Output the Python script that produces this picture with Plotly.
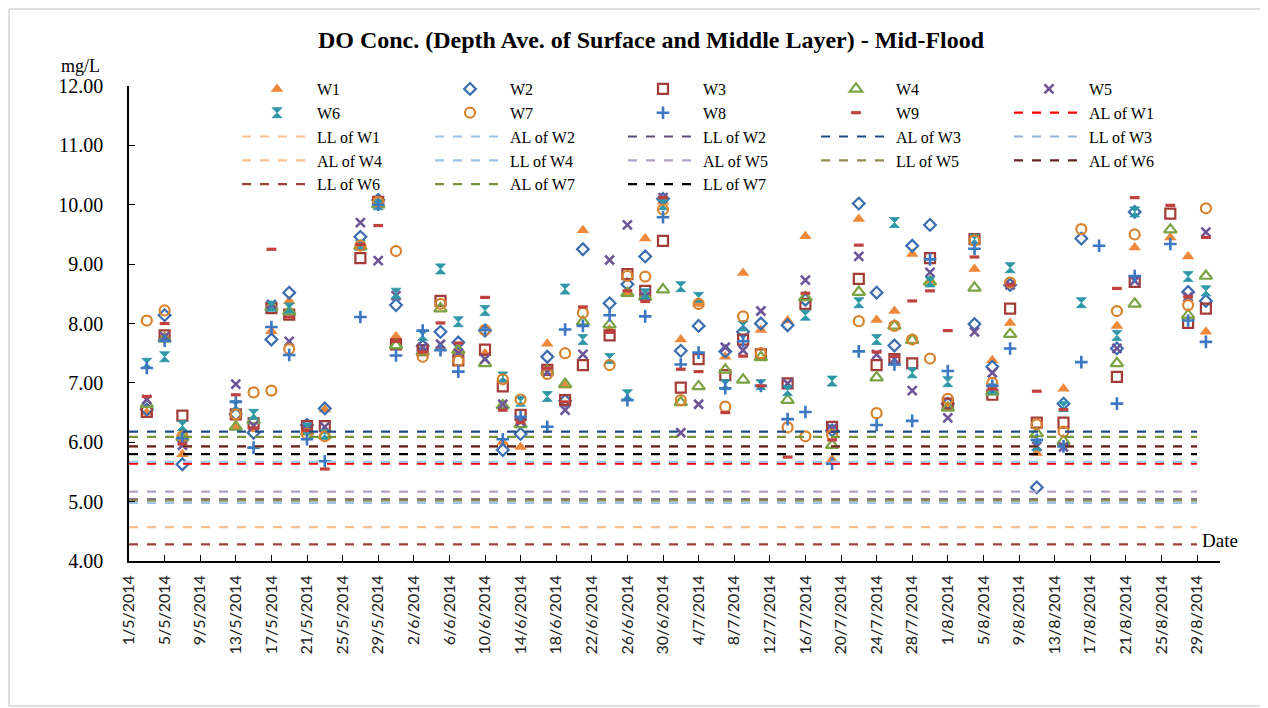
import plotly.graph_objects as go

dates = ["2014-05-03","2014-05-05","2014-05-07","2014-05-13","2014-05-15","2014-05-17","2014-05-19",
         "2014-05-21","2014-05-23","2014-05-27","2014-05-29","2014-05-31","2014-06-03","2014-06-05",
         "2014-06-07","2014-06-10","2014-06-12","2014-06-14","2014-06-17","2014-06-19","2014-06-21",
         "2014-06-24","2014-06-26","2014-06-28","2014-06-30","2014-07-02","2014-07-04","2014-07-07",
         "2014-07-09","2014-07-11","2014-07-14","2014-07-16","2014-07-19","2014-07-22","2014-07-24",
         "2014-07-26","2014-07-28","2014-07-30","2014-08-01","2014-08-04","2014-08-06","2014-08-08",
         "2014-08-11","2014-08-14","2014-08-16","2014-08-18","2014-08-20","2014-08-22","2014-08-26",
         "2014-08-28","2014-08-30"]

w1 = [6.50, 7.78, 5.80, 6.27, 6.22, 7.87, 8.38, 6.20, 6.55, 9.31, 10.05, 7.78, 7.50, 7.60, 7.58, 7.50, 6.00,
      5.92, 7.66, 6.95, 9.57, 7.90, 8.52, 9.43, 10.05, 7.73, 8.33, 7.44, 8.85, 7.89, 8.05, 9.47, 5.71, 9.76,
      8.06, 8.21, 9.17, 8.72, 6.60, 8.92, 7.38, 8.01, 5.82, 6.90, None, None, 7.96, 9.28, 9.45, 9.13, 7.86]
w2 = [6.55, 8.14, 5.63, 6.47, 6.16, 7.73, 8.52, 6.29, 6.57, 9.46, 10.08, 8.31, 7.62, 7.86, 7.68, 7.88, 5.87,
      6.14, 7.44, 6.70, 9.25, 8.34, 8.66, 9.13, 10.10, 7.54, 7.96, 7.53, 7.86, 8.00, 7.97, 8.40, 6.20, 10.02,
      8.52, 7.63, 9.31, 9.66, 6.65, 7.99, 7.27, 8.65, 5.24, 6.65, 9.43, None, 7.58, 9.88, None, 8.53, 8.38]
w3 = [6.51, 7.80, 6.45, 6.47, 6.32, 8.26, 8.15, 6.27, 6.27, 9.10, 10.05, 7.65, 7.55, 8.38, 7.38, 7.56, 6.94,
      6.46, 7.22, 6.71, 7.30, 7.80, 8.83, 8.55, 9.39, 6.92, 7.40, 7.13, 7.73, 7.48, 6.99, 8.33, 6.26, 8.75,
      7.30, 7.40, 7.33, 9.10, 6.65, 9.42, 6.80, 8.25, 6.33, 6.33, None, None, 7.10, 8.70, 9.85, 8.01, 8.25]
w4 = [6.64, 7.74, 6.08, 6.26, 6.37, 8.27, 8.20, 6.18, 6.12, 9.30, 10.00, 7.63, 7.52, 8.25, 7.55, 7.33, 6.62,
      6.30, 7.20, 6.98, 8.03, 7.98, 8.51, 8.45, 8.57, 6.67, 6.94, 7.22, 7.05, 7.43, 6.71, 8.44, 5.95, 8.53,
      7.09, 7.96, 7.72, 8.70, 6.58, 8.60, 6.85, 7.82, 6.15, 6.02, None, None, 7.33, 8.33, 9.58, 8.14, 8.80]
w5 = [6.72, 7.78, 5.95, 6.98, 6.28, 8.32, 7.70, 6.23, 6.26, 9.70, 9.06, 8.47, 7.60, 7.65, 7.50, 7.40, 6.64,
      6.35, 7.18, 6.54, 7.48, 9.07, 9.66, 8.45, 10.12, 6.16, 6.64, 7.60, 7.55, 8.21, 6.99, 8.73, 6.23, 9.13,
      7.48, 7.40, 6.87, 8.86, 6.41, 7.86, 7.17, 8.65, 5.93, 5.92, None, None, 7.58, 8.72, None, 8.45, 9.54]
w6 = [7.33, 7.44, 6.28, 6.62, 6.47, 8.29, 8.26, 6.24, 6.13, 9.32, 10.00, 8.51, 7.80, 8.92, 8.03, 8.22, 7.10,
      6.69, 6.77, 8.58, 7.73, 7.41, 6.80, 8.50, 10.00, 8.62, 8.44, 6.97, 7.96, 6.97, 6.87, 8.14, 7.03, 8.35,
      7.73, 9.70, 7.17, 8.70, 7.02, 9.42, 6.90, 8.94, 5.95, 6.60, 8.35, None, 7.80, 9.88, None, 8.79, 8.55]
w7 = [8.05, 8.22, 6.10, 6.47, 6.84, 6.87, 7.57, 6.14, 6.10, 9.31, 10.05, 9.22, 7.44, 8.33, 7.37, 7.89, 7.06,
      6.72, 7.15, 7.50, 8.18, 7.30, 8.80, 8.79, 9.92, 6.71, 8.33, 6.60, 8.12, 7.50, 6.25, 6.10, 6.12, 8.04,
      6.49, 7.96, 7.73, 7.41, 6.73, 9.40, 7.00, 8.69, 6.30, 6.18, 9.59, None, 8.21, 9.50, None, 8.31, 9.94]
w8 = [7.25, 7.71, 6.07, 6.68, 5.91, 7.94, 7.47, 6.05, 5.68, 8.11, 10.00, 7.46, 7.88, 7.55, 7.19, 7.89, 6.05,
      6.43, 6.26, 7.90, 7.96, 8.14, 6.71, 8.12, 9.79, 7.31, 7.51, 6.91, 7.70, 6.95, 6.39, 6.51, 5.64, 7.53,
      6.29, 7.31, 6.36, 9.08, 7.20, 9.26, 6.95, 7.58, 6.04, 5.93, 7.35, 9.31, 6.65, 8.80, 9.34, 8.05, 7.69]
w9 = [6.77, 8.00, 5.97, 6.80, 6.24, 9.25, 8.11, 6.20, 5.55, 9.33, 9.65, 7.70, 7.52, 8.01, 7.67, 8.44, 6.54,
      6.33, 7.25, 6.68, 8.28, 7.85, 8.55, 8.37, 10.12, 7.23, 7.19, 6.50, 7.45, 6.95, 5.75, 8.51, 6.04, 9.32,
      7.52, 7.45, 8.38, 8.55, 7.88, 9.12, 6.90, 8.65, 6.86, 6.55, None, None, 8.59, 10.12, 9.99, 8.45, 9.45]

station_names = ["W1", "W2", "W3", "W4", "W5", "W6", "W7", "W8", "W9"]
station_values = [w1, w2, w3, w4, w5, w6, w7, w8, w9]

limit_names = ["AL of W1", "LL of W1", "AL of W2", "LL of W2", "AL of W3", "LL of W3", "AL of W4",
               "LL of W4", "AL of W5", "LL of W5", "AL of W6", "LL of W6", "AL of W7", "LL of W7"]
limit_values = [5.64, 4.57, 5.67, 5.04, 6.18, 4.98, 5.93, 4.98, 5.17, 5.02, 5.93, 4.28, 6.09, 5.80]
limit_start = "2014-05-01"
limit_end = "2014-08-29"

# styles
marker_styles = [
    dict(symbol="triangle-up", color="#F0883A", size=11),
    dict(symbol="diamond-open", color="#3A6DB0", size=9, line=dict(width=2.2, color="#3A6DB0")),
    dict(symbol="square-open", color="#A33B37", size=10, line=dict(width=2.2, color="#A33B37")),
    dict(symbol="triangle-up-open", color="#7BA344", size=11, line=dict(width=2.2, color="#7BA344")),
    dict(symbol="x-thin", color="#6E5597", size=9, line=dict(width=2.6, color="#6E5597")),
    dict(symbol="hourglass", color="#2E97A8", size=10, line=dict(width=0.8, color="#2E97A8")),
    dict(symbol="circle-open", color="#D9822E", size=10, line=dict(width=2.2, color="#D9822E")),
    dict(symbol="cross-thin", color="#3C78C4", size=9, line=dict(width=2.6, color="#3C78C4")),
    dict(symbol="line-ew", color="#C0423E", size=7, line=dict(width=3.2, color="#C0423E")),
]
line_colors = ["#FF0000", "#FAC08F", "#9DC3E6", "#5F4B7A", "#1F4E85", "#95B3D7", "#FAC08F",
               "#9DC3E6", "#B3A2C7", "#948A54", "#632523", "#A0403C", "#77933C", "#000000"]

fig = go.Figure()
for name, vals, ms in zip(station_names, station_values, marker_styles):
    fig.add_trace(go.Scatter(x=dates, y=vals, mode="markers", name=name, marker=ms))
for name, val, col in zip(limit_names, limit_values, line_colors):
    fig.add_trace(go.Scatter(x=[limit_start, limit_end], y=[val, val], mode="lines", name=name,
                             line=dict(color=col, width=2.2, dash="dash")))

# geometry in page pixels (the page body adds an 8px margin around the figure)
OFF = 8
FW, FH = 1268 - OFF, 708 - OFF
L, R, T, B = 129, 1220, 86, 561
PW, PH = R - L, B - T

def px(x):
    return (x - L) / PW

def py(y):
    return (B - y) / PH

serif = "Liberation Serif"
fig.update_layout(
    width=FW, height=FH,
    margin=dict(l=L - OFF, r=1268 - R, t=T - OFF, b=708 - B, autoexpand=False),
    paper_bgcolor="white", plot_bgcolor="white",
    font=dict(family=serif, color="black"),
    title=dict(text="<b>DO Conc. (Depth Ave. of Surface and Middle Layer) - Mid-Flood</b>",
               x=(651 - OFF) / FW, xref="container", y=1 - (40 - OFF) / FH, yref="container",
               xanchor="center", yanchor="middle", font=dict(family=serif, size=24, color="black")),
    showlegend=True,
    legend=dict(orientation="h", x=px(237), y=py(72), xanchor="left", yanchor="top",
                entrywidth=108, entrywidthmode="pixels", itemwidth=70,
                font=dict(family=serif, size=16, color="black"), bgcolor="rgba(0,0,0,0)",
                traceorder="normal", tracegroupgap=0),
    xaxis=dict(type="date", range=["2014-05-01", "2014-08-31 14:00"], tick0="2014-05-01",
               dtick=4 * 86400000, tickformat="%-d/%-m/%Y", tickangle=-90,
               ticks="inside", ticklen=6, tickcolor="black", showline=True, linecolor="black",
               linewidth=1.5, showgrid=False, zeroline=False, ticklabelstandoff=6,
               tickfont=dict(family="Lato", size=16, color="#222222")),
    yaxis=dict(range=[4, 12], dtick=1, tickformat=".2f", ticks="inside", ticklen=6,
               tickcolor="black", showline=True, linecolor="black", linewidth=1.5, showgrid=False,
               zeroline=False, ticklabelstandoff=20,
               tickfont=dict(family=serif, size=20, color="black")),
    annotations=[
        dict(text="mg/L", x=px(80), y=py(66), xref="paper", yref="paper", showarrow=False,
             xanchor="center", yanchor="middle", font=dict(family=serif, size=18, color="black")),
        dict(text="Date", x=px(1220), y=py(540), xref="paper", yref="paper", xanchor="center",
             yanchor="middle", showarrow=False, font=dict(family=serif, size=19, color="black")),
    ],
)

fig.add_shape(type="rect", xref="paper", yref="paper",
              x0=px(9), x1=px(1262), y0=py(706), y1=py(9),
              line=dict(color="#BFBFBF", width=1), fillcolor="rgba(0,0,0,0)", layer="below")

fig.write_html("out.html")
